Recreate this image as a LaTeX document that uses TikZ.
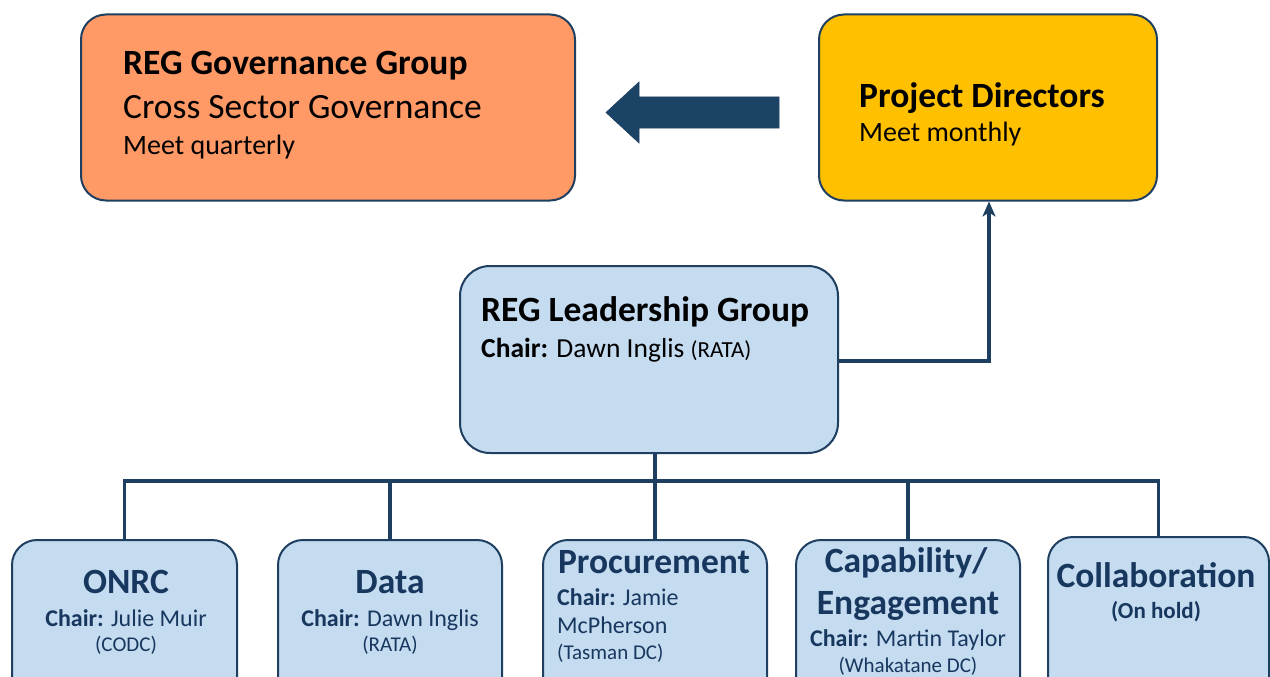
\documentclass[tikz,border=0pt]{standalone}
\usepackage{fontspec}
\setmainfont{Carlito}
\usetikzlibrary{arrows.meta}
\definecolor{bordc}{HTML}{1F3F60}
\definecolor{orangec}{HTML}{FF9966}
\definecolor{goldc}{HTML}{FFC000}
\definecolor{bluec}{HTML}{C4DBF0}
\definecolor{navyc}{HTML}{17375E}
\definecolor{arrowc}{HTML}{1B4366}
\newcommand{\fs}[1]{\fontsize{#1}{#1}\selectfont}
\begin{document}
\begin{tikzpicture}[x=1pt,y=-1pt,
  box/.style={draw=bordc, line width=2pt, rounded corners=25pt, inner sep=0pt},
  conn/.style={draw=bordc, line width=3.3pt},
  ttl/.style={font=\bfseries\fs{35.5}},
  txt/.style={inner sep=0pt}]
\useasboundingbox (0,0) rectangle (1270,677);
\clip (0,0) rectangle (1270,677);
% top boxes
\node[box, fill=orangec, minimum width=494pt, minimum height=186pt] (gov) at (328,107.5) {};
\node[box, fill=goldc, minimum width=338pt, minimum height=186pt] (pd) at (988,107.5) {};
% leadership
\node[box, fill=bluec, minimum width=378pt, minimum height=187pt, rounded corners=30pt] (lead) at (649,359.5) {};
% bottom boxes
\node[box, fill=bluec, minimum width=225pt, minimum height=170pt] (onrc) at (124.5,625) {};
\node[box, fill=bluec, minimum width=224pt, minimum height=170pt] (data) at (390,625) {};
\node[box, fill=bluec, minimum width=224pt, minimum height=170pt] (proc) at (655,625) {};
\node[box, fill=bluec, minimum width=224pt, minimum height=170pt] (cap) at (908,625) {};
\node[box, fill=bluec, minimum width=221pt, minimum height=170pt] (coll) at (1158.5,622) {};
% block arrow
\fill[arrowc, draw=bordc, line width=0.6pt] (779,97) -- (639,97) -- (639,82) -- (606,112.5) -- (639,143) -- (639,128) -- (779,128) -- cycle;
% connectors
\coordinate (bus) at (655,481);
\draw[conn] (lead.south -| bus) -- (bus);
\draw[conn] (onrc.north) |- (bus) -| (coll.north);
\draw[conn] (data.north) -- (data.north |- bus);
\draw[conn] (proc.north) -- (bus);
\draw[conn] (cap.north) -- (cap.north |- bus);
\coordinate (turn) at (989,361);
\draw[conn, -{Stealth[length=15pt,width=13pt,inset=4pt]}] (lead.east |- turn) -- (turn) -- (pd.south -| turn);
% texts: top
\node[txt, anchor=base west, ttl] (g1) at (123,75) {REG Governance Group};
\node[txt, anchor=base west, font=\fs{35.5}] (g2) at (123,118) {Cross Sector Governance};
\node[txt, anchor=base west, font=\fs{28}] (g3) at (123,154) {Meet quarterly};
\node[txt, anchor=base west, ttl] (p1) at (859,107) {Project Directors};
\node[txt, anchor=base west, font=\fs{28}] (p2) at (859,142) {Meet monthly};
\node[txt, anchor=base west, ttl] (l1) at (481,321) {REG Leadership Group};
\node[txt, anchor=base west, font=\fs{27.5}] (l2) at (481,357) {\textbf{Chair:} Dawn Inglis {\fs{23}(RATA)}};
% bottom texts
\begin{scope}[every node/.append style={text=navyc}]
\node[txt, anchor=base, ttl] (o1) at (126,593) {ONRC};
\node[txt, anchor=base, font=\fs{24}] (o2) at (126,626) {\textbf{Chair:} Julie Muir};
\node[txt, anchor=base, font=\fs{21}] (o3) at (126,651) {(CODC)};
\node[txt, anchor=base, ttl] (d1) at (390,593) {Data};
\node[txt, anchor=base, font=\fs{24}] (d2) at (390,626) {\textbf{Chair:} Dawn Inglis};
\node[txt, anchor=base, font=\fs{21}] (d3) at (390,651) {(RATA)};
\node[txt, anchor=base, ttl] (r1) at (654,573) {Procurement};
\node[txt, anchor=base west, font=\fs{24}] (r2) at (557,605) {\textbf{Chair:} Jamie};
\node[txt, anchor=base west, font=\fs{24}] (r3) at (557,633) {McPherson};
\node[txt, anchor=base west, font=\fs{21}] (r4) at (557,659) {(Tasman DC)};
\node[txt, anchor=base, ttl] (c1) at (906,572) {Capability/};
\node[txt, anchor=base, ttl] (c2) at (908,614) {Engagement};
\node[txt, anchor=base, font=\fs{24}] (c3) at (908,646) {\textbf{Chair:} Martin Taylor};
\node[txt, anchor=base, font=\fs{21}] (c4) at (908,672) {(Whakatane DC)};
\node[txt, anchor=base, ttl] (k1) at (1156,587) {Collaboration};
\node[txt, anchor=base, font=\bfseries\fs{23}] (k2) at (1156,618) {(On hold)};
\end{scope}
\end{tikzpicture}
\end{document}
